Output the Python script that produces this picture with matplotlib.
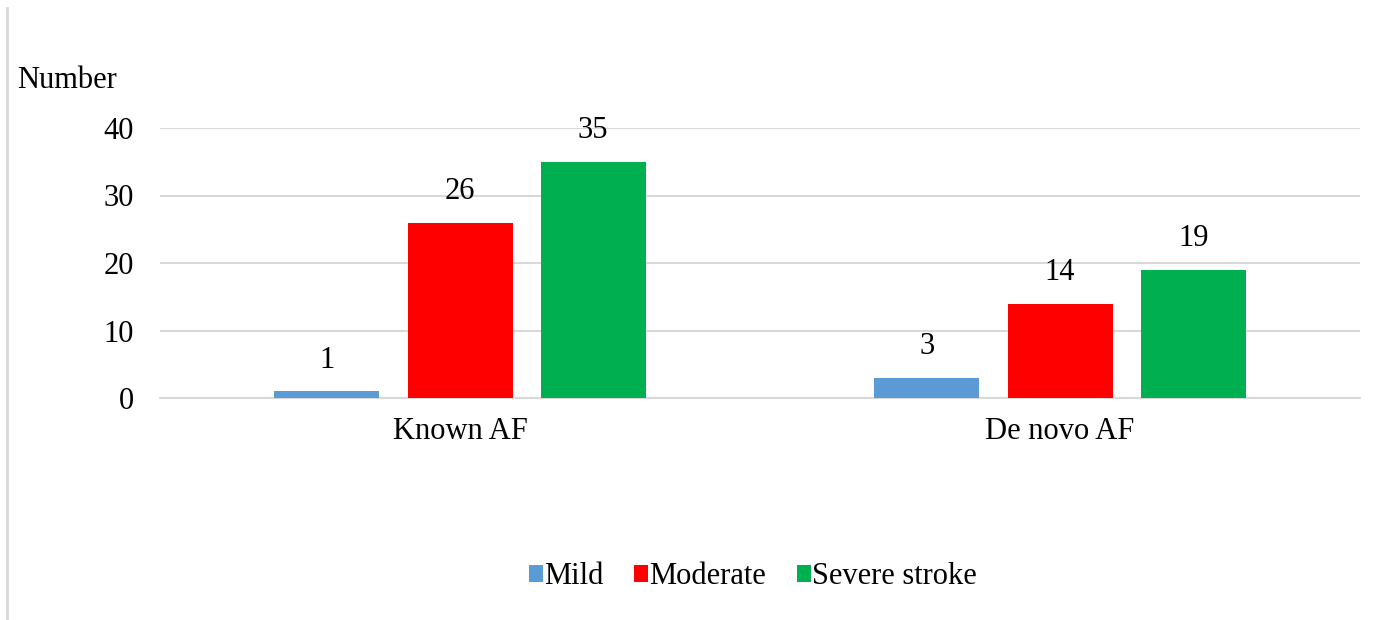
import matplotlib.pyplot as plt
import numpy as np
from matplotlib.lines import Line2D

groups = ["Known AF", "De novo AF"]
series = ["Mild", "Moderate", "Severe stroke"]
mild = [1, 3]
moderate = [26, 14]
severe = [35, 19]
colors = ["#5b9bd5", "#ff0000", "#00b050"]

plt.rcParams["font.family"] = ["Liberation Serif", "DejaVu Serif"]
fs = 22

fig = plt.figure(figsize=(13.89, 6.2), dpi=100)
ax = fig.add_axes([160 / 1389, 1 - 398 / 620, 1200 / 1389, 270 / 620])

x = np.arange(len(groups))
w = 0.175
step = 0.222
for i, (vals, c, name) in enumerate(zip([mild, moderate, severe], colors, series)):
    bars = ax.bar(x + (i - 1) * step, vals, w, color=c, label=name, zorder=3)
    for b, v in zip(bars, vals):
        ax.text(b.get_x() + b.get_width() / 2, v + 4.6, str(v), ha="center",
                va="center", fontsize=fs)

ax.set_xlim(-0.5, 1.5)
ax.set_ylim(0, 40)
ax.set_yticks([0, 10, 20, 30, 40])
ax.set_xticks(x)
ax.set_xticklabels(groups)
ax.grid(axis="y", color="#d9d9d9", linewidth=1.5, zorder=0)
for s in ["top", "right", "left"]:
    ax.spines[s].set_visible(False)
ax.spines["bottom"].set_color("#d9d9d9")
ax.spines["bottom"].set_linewidth(1.5)
ax.tick_params(axis="both", length=0, labelsize=fs)
ax.tick_params(axis="y", pad=19)
ax.tick_params(axis="x", pad=14)

fig.text(17 / 1389, 1 - 80 / 620, "Number", fontsize=fs, va="center", ha="left")

fig.legend(loc="center", bbox_to_anchor=(753 / 1389, 1 - 577 / 620), ncol=3,
           frameon=False, fontsize=fs, handlelength=0.45, handleheight=0.45,
           handletextpad=0.05, columnspacing=1.0)

fig.add_artist(Line2D([7 / 1389, 7 / 1389], [0, 1 - 8 / 620], color="#d9d9d9",
                      linewidth=2, transform=fig.transFigure))

fig.savefig("out.png", dpi=100)
